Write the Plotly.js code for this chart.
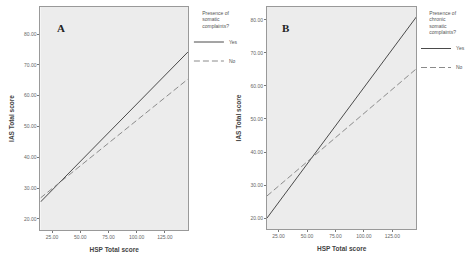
<!DOCTYPE html>
<html><head><meta charset="utf-8">
<script src="https://cdn.plot.ly/plotly-3.0.1.min.js"></script>
<style>html,body{margin:0;padding:0;background:#fff;}#c{width:470px;height:256px;}</style>
</head><body><div id="c"></div>
<script>
// Panel A: fitted lines by group (endpoints of the fit over the x range)
const xA = [14.7, 145.5];
const yesA = [25.5, 74.2];
const noA = [26.8, 65.4];
// Panel B
const xB = [14.8, 146.2];
const yesB = [20.0, 80.9];
const noB = [26.7, 65.2];
const groupNames = ["Yes", "No"];
const xTickVals = [25, 50, 75, 100, 125];
const xTickText = ["25.00", "50.00", "75.00", "100.00", "125.00"];
const yTickVals = [20, 30, 40, 50, 60, 70, 80];
const yTickText = ["20.00", "30.00", "40.00", "50.00", "60.00", "70.00", "80.00"];
const panelLabels = ["A", "B"];
const xTitle = "HSP Total score";
const yTitle = "IAS Total score";
const legendTitles = ["Presence of<br>somatic<br>complaints?", "Presence of<br>chronic<br>somatic<br>complaints?"];

const solid = {color: "#4a4a4a", width: 1, dash: "solid"};
const dashed = {color: "#8a8a8a", width: 1, dash: "6px,3px"};

const traces = [
  {x: xA, y: yesA, mode: "lines", name: groupNames[0], line: solid, xaxis: "x", yaxis: "y", legend: "legend"},
  {x: xA, y: noA, mode: "lines", name: groupNames[1], line: dashed, xaxis: "x", yaxis: "y", legend: "legend"},
  {x: xB, y: yesB, mode: "lines", name: groupNames[0], line: solid, xaxis: "x2", yaxis: "y2", legend: "legend2"},
  {x: xB, y: noB, mode: "lines", name: groupNames[1], line: dashed, xaxis: "x2", yaxis: "y2", legend: "legend2"}
];

const tickFont = {family: "Liberation Sans, Arial, sans-serif", size: 5, color: "#666"};
const titleFont = {family: "Liberation Sans, Arial, sans-serif", size: 6.5, color: "#444", weight: "bold"};
function xax(domain, anchor, range) {
  return {domain: domain, anchor: anchor, range: range, tickvals: xTickVals, ticktext: xTickText,
    ticks: "outside", ticklen: 2, tickcolor: "#777", tickfont: tickFont, showgrid: false, zeroline: false,
    showline: true, linecolor: "#999", linewidth: 1, mirror: true,
    title: {text: xTitle, font: titleFont, standoff: 8}};
}
function yax(domain, anchor, range) {
  return {domain: domain, anchor: anchor, range: range, tickvals: yTickVals, ticktext: yTickText,
    ticks: "outside", ticklen: 2, tickcolor: "#777", tickfont: tickFont, showgrid: false, zeroline: false,
    showline: true, linecolor: "#999", linewidth: 1, mirror: true,
    title: {text: yTitle, font: titleFont, standoff: 8}};
}
const legFont = {family: "Liberation Sans, Arial, sans-serif", size: 5, color: "#555"};
const layout = {
  width: 470, height: 256,
  margin: {l: 0, r: 0, t: 0, b: 0},
  paper_bgcolor: "#ffffff", plot_bgcolor: "#ececec",
  showlegend: true,
  xaxis: xax([42/470, 195/470], "y", [14.7, 145.5]),
  yaxis: yax([26/256, 249/256], "x", [16.4, 88.8]),
  xaxis2: xax([277/470, 432/470], "y2", [14.8, 146.2]),
  yaxis2: yax([27/256, 249/256], "x2", [16.7, 83.9]),
  legend: {x: 196/470, y: 1 - 8/256, xanchor: "left", yanchor: "top", bgcolor: "rgba(0,0,0,0)",
    font: legFont, title: {text: legendTitles[0], font: legFont, side: "top center"}, itemwidth: 30, tracegroupgap: 0},
  legend2: {x: 432/470, y: 1 - 8/256, xanchor: "left", yanchor: "top", bgcolor: "rgba(0,0,0,0)",
    font: legFont, title: {text: legendTitles[1], font: legFont, side: "top center"}, itemwidth: 30, tracegroupgap: 0},
  annotations: [
    {text: "<b>" + panelLabels[0] + "</b>", xref: "paper", yref: "paper", x: 57/470, y: 1 - 20/256, showarrow: false,
      font: {family: "Liberation Serif, serif", size: 11, color: "#222"}},
    {text: "<b>" + panelLabels[1] + "</b>", xref: "paper", yref: "paper", x: 297/470, y: 1 - 20/256, showarrow: false,
      font: {family: "Liberation Serif, serif", size: 11, color: "#222"}}
  ]
};
Plotly.newPlot("c", traces, layout, {displayModeBar: false, staticPlot: true});
</script></body></html>
